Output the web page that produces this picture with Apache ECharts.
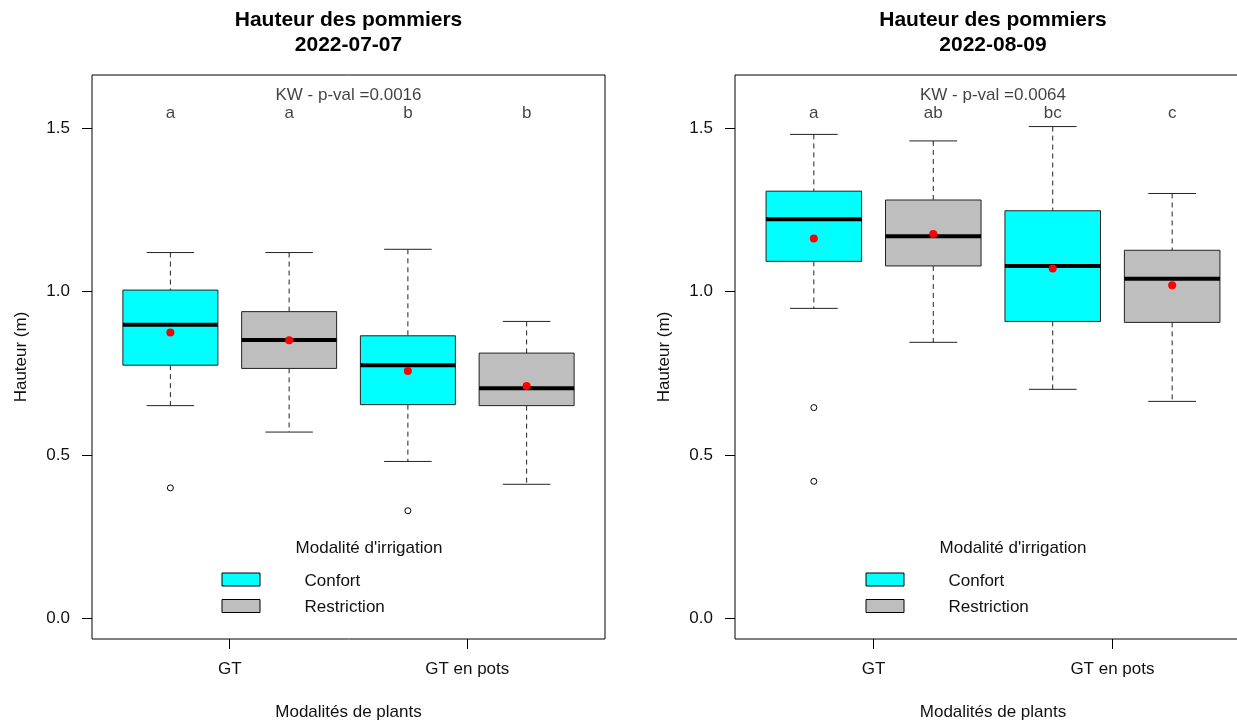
<!DOCTYPE html>
<html>
<head>
<meta charset="utf-8">
<script src="https://cdn.jsdelivr.net/npm/echarts@6/dist/echarts.min.js"></script>
<style>
html,body{margin:0;padding:0;background:#fff;overflow:hidden;}
#chart{width:1237px;height:720px;}
</style>
</head>
<body>
<div id="chart"></div>
<script>
// ---------- DATA ----------
const categories = ['GT', 'GT en pots'];
const groups = ['Confort', 'Restriction'];
const boxPositions = [1, 2, 3, 4];           // GT-Confort, GT-Restriction, GT en pots-Confort, GT en pots-Restriction
const boxGroup = [0, 1, 0, 1];
const yTicks = [0, 0.5, 1.0, 1.5];
const xTickPositions = [1.5, 3.5];

const titles = ['Hauteur des pommiers\n2022-07-07', 'Hauteur des pommiers\n2022-08-09'];
const pvals = ['0.0016', '0.0064'];

// [lower whisker, Q1, median, Q3, upper whisker]
const stats0707 = [
  [0.651, 0.775, 0.899, 1.005, 1.120],
  [0.570, 0.765, 0.852, 0.939, 1.120],
  [0.480, 0.654, 0.775, 0.865, 1.130],
  [0.410, 0.651, 0.704, 0.812, 0.909]
];
const means0707 = [0.875, 0.851, 0.757, 0.711];
const outliers0707 = [[1, 0.399], [3, 0.329]];
const letters0707 = ['a', 'a', 'b', 'b'];

const stats0809 = [
  [0.949, 1.093, 1.222, 1.308, 1.482],
  [0.845, 1.079, 1.170, 1.281, 1.462],
  [0.701, 0.909, 1.079, 1.248, 1.506],
  [0.664, 0.906, 1.040, 1.127, 1.301]
];
const means0809 = [1.163, 1.177, 1.071, 1.020];
const outliers0809 = [[1, 0.645], [1, 0.419]];
const letters0809 = ['a', 'ab', 'bc', 'c'];

const letterY = 1.548;
const kwY = 1.602;

// ---------- STYLE ----------
const FONT = "'Liberation Sans', Arial, sans-serif";
const fills = ['#00FFFF', '#BEBEBE'];
const panels = [
  { stats: stats0707, means: means0707, outliers: outliers0707, letters: letters0707, pval: pvals[0], title: titles[0],
    grid: { left: 92, top: 75, width: 513, height: 564 }, legendOffset: 0 },
  { stats: stats0809, means: means0809, outliers: outliers0809, letters: letters0809, pval: pvals[1], title: titles[1],
    grid: { left: 735, top: 75, width: 516, height: 564 }, legendOffset: 644 }
];

function renderBox(params, api) {
  const x = api.value(0);
  const low = api.value(1), q1 = api.value(2), med = api.value(3), q3 = api.value(4), high = api.value(5);
  const fill = fills[api.value(6)];
  const halfW = api.size([0.8, 0])[0] / 2;
  const capHalf = api.size([0.4, 0])[0] / 2;
  const pLow = api.coord([x, low]), pQ1 = api.coord([x, q1]), pMed = api.coord([x, med]);
  const pQ3 = api.coord([x, q3]), pHigh = api.coord([x, high]);
  const cx = pMed[0];
  const dash = { stroke: '#222', lineWidth: 1, lineDash: [5, 4] };
  const solid = { stroke: '#222', lineWidth: 1 };
  return {
    type: 'group',
    children: [
      { type: 'line', shape: { x1: cx, y1: pHigh[1], x2: cx, y2: pQ3[1] }, style: dash },
      { type: 'line', shape: { x1: cx, y1: pQ1[1], x2: cx, y2: pLow[1] }, style: dash },
      { type: 'line', shape: { x1: cx - capHalf, y1: pHigh[1], x2: cx + capHalf, y2: pHigh[1] }, style: solid },
      { type: 'line', shape: { x1: cx - capHalf, y1: pLow[1], x2: cx + capHalf, y2: pLow[1] }, style: solid },
      { type: 'rect', shape: { x: cx - halfW, y: pQ3[1], width: 2 * halfW, height: pQ1[1] - pQ3[1] },
        style: { fill: fill, stroke: '#222', lineWidth: 1 } },
      { type: 'line', shape: { x1: cx - halfW, y1: pMed[1], x2: cx + halfW, y2: pMed[1] },
        style: { stroke: '#000', lineWidth: 4 } }
    ]
  };
}

const grids = [], xAxes = [], yAxes = [], series = [], graphics = [];
panels.forEach((p, i) => {
  grids.push(Object.assign({ show: true, borderColor: '#000', borderWidth: 1, backgroundColor: 'transparent',
    containLabel: false, outerBoundsMode: 'none' }, p.grid));
  xAxes.push({
    gridIndex: i, type: 'value', min: 0.34, max: 4.66, position: 'bottom',
    splitLine: { show: false }, axisLine: { show: false, onZero: false },
    axisTick: { show: true, inside: false, length: 10, customValues: xTickPositions, lineStyle: { color: '#000' } },
    axisLabel: { customValues: xTickPositions, margin: 22, fontSize: 17, color: '#111', fontFamily: FONT,
      formatter: v => categories[Math.round((v - 1.5) / 2)] },
    name: 'Modalités de plants', nameLocation: 'middle', nameGap: 65,
    nameTextStyle: { fontSize: 17, color: '#111', fontFamily: FONT }
  });
  yAxes.push({
    gridIndex: i, type: 'value', min: -0.064, max: 1.664, position: 'left',
    splitLine: { show: false }, axisLine: { show: false, onZero: false },
    axisTick: { show: true, inside: false, length: 10, customValues: yTicks, lineStyle: { color: '#000' } },
    axisLabel: { customValues: yTicks, margin: 22, fontSize: 17, color: '#111', fontFamily: FONT,
      formatter: v => v.toFixed(1) },
    name: 'Hauteur (m)', nameLocation: 'middle', nameGap: 62, nameRotate: 90,
    nameTextStyle: { fontSize: 17, color: '#111', fontFamily: FONT }
  });
  series.push({
    type: 'custom', xAxisIndex: i, yAxisIndex: i, renderItem: renderBox,
    encode: { x: 0, y: [1, 2, 3, 4, 5] },
    data: p.stats.map((s, k) => [boxPositions[k], s[0], s[1], s[2], s[3], s[4], boxGroup[k]]),
    z: 2, silent: true
  });
  series.push({
    type: 'scatter', xAxisIndex: i, yAxisIndex: i, symbol: 'circle', symbolSize: 6,
    itemStyle: { color: '#fff', borderColor: '#000', borderWidth: 1, opacity: 1 },
    data: p.outliers, z: 3, silent: true
  });
  series.push({
    type: 'scatter', xAxisIndex: i, yAxisIndex: i, symbol: 'circle', symbolSize: 8,
    itemStyle: { color: '#FF0000', opacity: 1 },
    data: p.means.map((m, k) => [boxPositions[k], m]), z: 4, silent: true
  });
  series.push({
    type: 'scatter', xAxisIndex: i, yAxisIndex: i, symbolSize: 0,
    label: { show: true, position: 'inside', formatter: '{b}', fontSize: 17, color: '#111', fontFamily: FONT },
    data: p.letters.map((l, k) => ({ name: l, value: [boxPositions[k], letterY] })), z: 5, silent: true
  });
  series.push({
    type: 'scatter', xAxisIndex: i, yAxisIndex: i, symbolSize: 0,
    label: { show: true, position: 'inside', formatter: '{b}', fontSize: 17, color: '#111', fontFamily: FONT },
    data: [{ name: 'KW - p-val =' + p.pval, value: [2.5, kwY] }], z: 5, silent: true
  });

  const cx = p.grid.left + p.grid.width / 2;
  graphics.push({
    type: 'text', x: cx, y: 33,
    style: { text: p.title, align: 'center', verticalAlign: 'middle', lineHeight: 25,
      font: 'bold 21px ' + FONT, fill: '#000' }
  });
  const o = p.legendOffset;
  graphics.push({
    type: 'text', x: 369 + o, y: 548,
    style: { text: "Modalité d'irrigation", align: 'center', verticalAlign: 'middle', font: '17px ' + FONT, fill: '#111' }
  });
  groups.forEach((g, k) => {
    const yc = 579.5 + k * 26.5;
    graphics.push({
      type: 'rect', shape: { x: 222 + o, y: yc - 6.5, width: 38, height: 13 },
      style: { fill: fills[k], stroke: '#000', lineWidth: 1 }
    });
    graphics.push({
      type: 'text', x: 304.5 + o, y: yc + 1.5,
      style: { text: g, align: 'left', verticalAlign: 'middle', font: '17px ' + FONT, fill: '#111' }
    });
  });
});

const chart = echarts.init(document.getElementById('chart'), null, { renderer: 'canvas' });
chart.setOption({
  animation: false,
  backgroundColor: '#fff',
  grid: grids,
  xAxis: xAxes,
  yAxis: yAxes,
  series: series,
  graphic: graphics
});
</script>
</body>
</html>
